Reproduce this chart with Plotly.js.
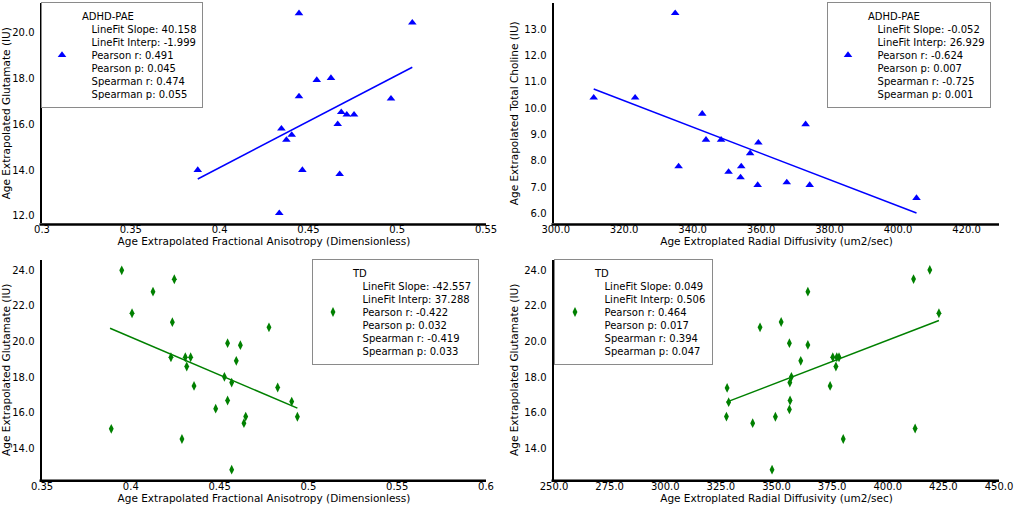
<!DOCTYPE html>
<html><head><meta charset="utf-8">
<script src="https://cdn.plot.ly/plotly-3.0.1.min.js"></script>
<style>html,body{margin:0;padding:0;background:#fff}#chart{width:1015px;height:508px}</style>
</head><body><div id="chart"></div><script>
// ---------- Panel 1: ADHD-PAE, FA vs Glutamate ----------
const p1X = [0.4447, 0.5085, 0.4547, 0.4627, 0.4447, 0.4965, 0.4685, 0.4716, 0.4757, 0.4665, 0.4348, 0.4406, 0.4376, 0.4466, 0.4676, 0.4336, 0.3877];
const p1Y = [20.83, 20.42, 17.92, 18.01, 17.21, 17.11, 16.52, 16.41, 16.41, 16.00, 15.80, 15.53, 15.31, 14.00, 13.82, 12.12, 14.00];
const p1FitX = [0.3877, 0.5085];
const p1FitY = [13.61, 18.48];
// ---------- Panel 2: ADHD-PAE, RD vs Total Choline ----------
const p2X = [334.9, 311.1, 323.2, 342.8, 343.9, 348.3, 359.2, 356.8, 335.9, 354.2, 350.5, 354.0, 359.0, 373.0, 367.5, 374.2, 405.4];
const p2Y = [13.61, 10.40, 10.40, 9.79, 8.80, 8.80, 8.69, 8.29, 7.79, 7.79, 7.58, 7.37, 7.08, 9.39, 7.18, 7.08, 6.59];
const p2FitX = [311.1, 405.4];
const p2FitY = [10.73, 6.02];
// ---------- Panel 3: TD, FA vs Glutamate ----------
const p3X = [0.3949, 0.4245, 0.4125, 0.4007, 0.4234, 0.4226, 0.4307, 0.4337, 0.4315, 0.4356, 0.4545, 0.4617, 0.4594, 0.4527, 0.4568, 0.4545, 0.4478, 0.4647, 0.4637, 0.3890, 0.4288, 0.4568, 0.4778, 0.4827, 0.4906, 0.4938];
const p3Y = [24.00, 23.50, 22.80, 21.59, 21.09, 19.12, 19.12, 19.12, 18.60, 17.51, 19.91, 19.80, 18.92, 18.02, 17.70, 16.69, 16.23, 15.79, 15.42, 15.10, 14.53, 12.81, 20.80, 17.42, 16.63, 15.78];
const p3FitX = [0.3883, 0.4938];
const p3FitY = [20.75, 16.26];
// ---------- Panel 4: TD, RD vs Glutamate ----------
const p4X = [327.8, 328.5, 327.5, 339.3, 342.6, 352.1, 364.1, 355.8, 364.1, 360.9, 375.3, 377.1, 378.1, 376.7, 356.7, 356.0, 374.1, 356.1, 355.8, 349.5, 380.0, 348.0, 411.6, 418.9, 423.0, 412.3];
const p4Y = [17.40, 16.60, 15.79, 15.42, 20.80, 21.10, 22.80, 19.91, 19.81, 18.92, 19.12, 19.12, 19.12, 18.60, 18.02, 17.70, 17.51, 16.69, 16.19, 15.78, 14.53, 12.81, 23.51, 24.02, 21.59, 15.12];
const p4FitX = [327.5, 423.0];
const p4FitY = [16.60, 21.18];

// ---------- legend statistics (panels 1..4) ----------
const groups      = ['ADHD-PAE', 'ADHD-PAE', 'TD', 'TD'];
const fitSlope    = ['40.158', '-0.052', '-42.557', '0.049'];
const fitInterp   = ['-1.999', '26.929', '37.288', '0.506'];
const pearsonR    = ['0.491', '-0.624', '-0.422', '0.464'];
const pearsonP    = ['0.045', '0.007', '0.032', '0.017'];
const spearmanR   = ['0.474', '-0.725', '-0.419', '0.394'];
const spearmanP   = ['0.055', '0.001', '0.033', '0.047'];

// ---------- tick labels ----------
const faTicks1 = [0.3, 0.35, 0.4, 0.45, 0.5, 0.55];
const faText1  = ['0.3', '0.35', '0.4', '0.45', '0.5', '0.55'];
const faTicks3 = [0.35, 0.4, 0.45, 0.5, 0.55, 0.6];
const faText3  = ['0.35', '0.4', '0.45', '0.5', '0.55', '0.6'];
const rdTicks2 = [300, 320, 340, 360, 380, 400, 420];
const rdText2  = ['300.0', '320.0', '340.0', '360.0', '380.0', '400.0', '420.0'];
const rdTicks4 = [250, 275, 300, 325, 350, 375, 400, 425, 450];
const rdText4  = ['250.0', '275.0', '300.0', '325.0', '350.0', '375.0', '400.0', '425.0', '450.0'];
const gluTicks1 = [12, 14, 16, 18, 20];
const gluText1  = ['12.0', '14.0', '16.0', '18.0', '20.0'];
const choTicks = [6, 7, 8, 9, 10, 11, 12, 13];
const choText  = ['6.0', '7.0', '8.0', '9.0', '10.0', '11.0', '12.0', '13.0'];
const gluTicks3 = [14, 16, 18, 20, 22, 24];
const gluText3  = ['14.0', '16.0', '18.0', '20.0', '22.0', '24.0'];

const titles = {
  faX: 'Age Extrapolated Fractional Anisotropy (Dimensionless)',
  rdX: 'Age Extroplated Radial Diffusivity (um2/sec)',
  gluY: 'Age Extrapolated Glutamate (IU)',
  choY: 'Age Extrapolated Total Choline (IU)'
};

const FONT = 'DejaVu Sans, sans-serif';
const BLUE = '#0000ff', GREEN = '#008000';
const NB = '\u00a0\u00a0\u00a0';

function legendName(i) {
  return [groups[i],
    NB + 'LineFit Slope: ' + fitSlope[i],
    NB + 'LineFit Interp: ' + fitInterp[i],
    NB + 'Pearson r: ' + pearsonR[i],
    NB + 'Pearson p: ' + pearsonP[i],
    NB + 'Spearman r: ' + spearmanR[i],
    NB + 'Spearman p: ' + spearmanP[i]].join('<br>');
}

const W = 1015, H = 508;
function dx(a, b) { return [a / W, b / W]; }
function dy(top, bottom) { return [1 - bottom / H, 1 - top / H]; }
const LABEL_LIFT = 1;   // px the free x axis sits above the drawn spine

// x axes are placed 'free' just above the spine so their labels hug it;
// the bottom spine itself is drawn as a paper-line shape.
function xAxis(domain, range, tv, tt, title, bottomPx) {
  return {
    domain: domain, range: range, anchor: 'free', position: 1 - (bottomPx - LABEL_LIFT) / H,
    tickmode: 'array', tickvals: tv, ticktext: tt,
    showgrid: false, zeroline: false, showline: false,
    ticks: '', ticklen: 0,
    tickfont: {family: FONT, size: 10, color: '#000'},
    title: {text: title, font: {family: FONT, size: 10.5, color: '#000'}, standoff: 2},
    automargin: false
  };
}
function yAxis(domain, range, tv, tt, title, anchor) {
  return {
    domain: domain, range: range, anchor: anchor,
    tickmode: 'array', tickvals: tv, ticktext: tt,
    showgrid: false, zeroline: false, showline: true, linecolor: '#000', linewidth: 2.5,
    ticks: '', ticklen: 0, ticklabelstandoff: 3,
    tickfont: {family: FONT, size: 10, color: '#000'},
    title: {text: title, font: {family: FONT, size: 10.5, color: '#000'}, standoff: 4},
    automargin: false
  };
}

function scatter(x, y, xa, ya, sym, size, color, legend, i) {
  return {x: x, y: y, xaxis: xa, yaxis: ya, type: 'scatter', mode: 'markers',
    marker: {symbol: sym, size: size, color: color, line: {width: 0}},
    name: legendName(i), legend: legend, showlegend: true, hoverinfo: 'skip'};
}
function fit(x, y, xa, ya, color) {
  return {x: x, y: y, xaxis: xa, yaxis: ya, type: 'scatter', mode: 'lines',
    line: {color: color, width: 1.5}, showlegend: false, hoverinfo: 'skip'};
}

const data = [
  fit(p1FitX, p1FitY, 'x', 'y', BLUE),
  scatter(p1X, p1Y, 'x', 'y', 'triangle-up', 7.5, BLUE, 'legend', 0),
  fit(p2FitX, p2FitY, 'x2', 'y2', BLUE),
  scatter(p2X, p2Y, 'x2', 'y2', 'triangle-up', 7.5, BLUE, 'legend2', 1),
  fit(p3FitX, p3FitY, 'x3', 'y3', GREEN),
  scatter(p3X, p3Y, 'x3', 'y3', 'diamond-tall', 7, GREEN, 'legend3', 2),
  fit(p4FitX, p4FitY, 'x4', 'y4', GREEN),
  scatter(p4X, p4Y, 'x4', 'y4', 'diamond-tall', 7, GREEN, 'legend4', 3)
];

function leg(xpx, ypx) {
  return {x: xpx / W, y: 1 - ypx / H, xanchor: 'left', yanchor: 'top',
    bgcolor: 'rgba(255,255,255,0.85)', bordercolor: '#8a8a8a', borderwidth: 1,
    font: {family: FONT, size: 10, color: '#000'}, valign: 'middle'};
}

const TOP_T = 3.2, TOP_B = 223.3, BOT_T = 260, BOT_B = 479.6;
const L0 = 42, L1 = 486, R0 = 554, R1 = 999;
const topDom = dy(TOP_T, TOP_B), botDom = dy(BOT_T, BOT_B);
const leftDom = dx(L0, L1), rightDom = dx(R0, R1);

function spine(x0, x1, yPx) {
  const y = 1 - (yPx + 1.25) / H;
  return {type: 'line', xref: 'paper', yref: 'paper', x0: (x0 - 2.5) / W, x1: x1 / W, y0: y, y1: y,
    line: {color: '#000', width: 2.5}, layer: 'above'};
}

const layout = {
  width: W, height: H,
  margin: {l: 0, r: 0, t: 0, b: 0},
  paper_bgcolor: '#fff', plot_bgcolor: 'rgba(0,0,0,0)',
  font: {family: FONT, color: '#000'},
  xaxis:  xAxis(leftDom,  [0.3, 0.55], faTicks1, faText1, titles.faX, TOP_B),
  yaxis:  yAxis(topDom,   [11.68, 21.27], gluTicks1, gluText1, titles.gluY, 'x'),
  xaxis2: xAxis(rightDom, [299.5, 429.5], rdTicks2, rdText2, titles.rdX, TOP_B),
  yaxis2: yAxis(topDom,   [5.63, 13.99], choTicks, choText, titles.choY, 'x2'),
  xaxis3: xAxis(leftDom,  [0.35, 0.6], faTicks3, faText3, titles.faX, BOT_B),
  yaxis3: yAxis(botDom,   [12.25, 24.58], gluTicks3, gluText3, titles.gluY, 'x3'),
  xaxis4: xAxis(rightDom, [250, 450], rdTicks4, rdText4, titles.rdX, BOT_B),
  yaxis4: yAxis(botDom,   [12.25, 24.58], gluTicks3, gluText3, titles.gluY, 'x4'),
  shapes: [spine(L0, L1, TOP_B), spine(R0, R1, TOP_B), spine(L0, L1, BOT_B), spine(R0, R1, BOT_B)],
  legend:  leg(41, 2),
  legend2: leg(827, 2),
  legend3: leg(312, 259),
  legend4: leg(554, 259)
};

Plotly.newPlot('chart', data, layout, {staticPlot: true, displayModeBar: false});
</script></body></html>
